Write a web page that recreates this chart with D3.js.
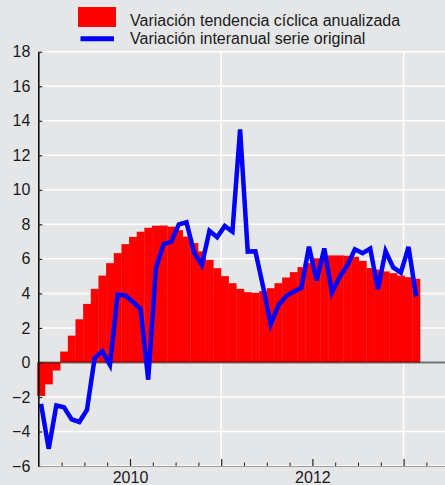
<!DOCTYPE html>
<html>
<head>
<meta charset="utf-8">
<script src="https://cdn.jsdelivr.net/npm/d3@7"></script>
<style>
  html, body { margin: 0; padding: 0; background: #e5e6e8; }
  svg { display: block; font-family: "Liberation Sans", Arial, sans-serif; }
</style>
</head>
<body>
<svg id="chart" width="445" height="485"></svg>
<script>
// ---- data (monthly, Jan 2009 – Feb 2013) ----
const startYear = 2009;
const seriesNames = ["Variación tendencia cíclica anualizada", "Variación interanual serie original"];
const trendValues = [
  -1.94, -1.27, -0.47, 0.63, 1.55, 2.50, 3.39, 4.26, 5.03, 5.75, 6.33, 6.85,
  7.27, 7.57, 7.80, 7.92, 7.93, 7.86, 7.66, 7.29, 6.91, 6.43, 5.94, 5.46,
  5.00, 4.59, 4.26, 4.07, 4.03, 4.13, 4.30, 4.59, 4.92, 5.23, 5.52, 5.75,
  6.03, 6.15, 6.20, 6.20, 6.18, 6.12, 5.88, 5.47, 5.37, 5.27, 5.17, 5.03,
  4.94, 4.84
];
const yoyValues = [
  -2.4, -5.0, -2.5, -2.6, -3.3, -3.45, -2.75, 0.25, 0.65, -0.15, 3.92, 3.88,
  3.5, 3.1, -1.0, 5.45, 6.85, 7.0, 8.0, 8.12, 6.35, 5.65, 7.62, 7.25,
  7.9, 7.58, 13.5, 6.42, 6.44, 4.4, 2.2, 3.3, 3.84, 4.1, 4.33, 6.7,
  4.75, 6.6, 4.05, 4.95, 5.62, 6.55, 6.33, 6.6, 4.25, 6.45, 5.5, 5.2,
  6.7, 3.83
];
const yTicks = [-6, -4, -2, 0, 2, 4, 6, 8, 10, 12, 14, 16, 18];
const xLabelYears = ["2010", "2012"];
const gridYears = ["2011", "2013"];

// ---- setup ----
const svg = d3.select("#chart");
const W = 445, H = 485;
const months = d3.range(trendValues.length);

svg.append("rect").attr("width", W).attr("height", H).attr("fill", "#e5e6e8");

const y = d3.scaleLinear().domain([-6, 18]).range([466, 51.7]);
const xb = d3.scaleBand().domain(months).range([37.2, 420]).padding(0);
const xa = d3.scaleLinear().domain([0, 54]).range([38.8, 38.8 + 54 * 7.6]);
const monthOfYear = yr => (+yr - startYear) * 12;

const plotLeft = xa(0), plotRight = W;

// grid
const grid = svg.append("g");
grid.selectAll("line.h").data(yTicks.filter(v => v !== 0)).join("line")
  .attr("x1", plotLeft).attr("x2", plotRight)
  .attr("y1", d => y(d)).attr("y2", d => y(d))
  .attr("stroke", "#ffffff").attr("stroke-width", 1.5);
grid.selectAll("line.v").data(gridYears).join("line")
  .attr("x1", d => xa(monthOfYear(d))).attr("x2", d => xa(monthOfYear(d)))
  .attr("y1", y(18)).attr("y2", y(-6))
  .attr("stroke", "#ffffff").attr("stroke-width", 1.5);

// bars
svg.append("g").selectAll("rect").data(trendValues).join("rect")
  .attr("x", (d, i) => xb(i))
  .attr("width", xb.bandwidth() + 0.3)
  .attr("y", d => y(Math.max(0, d)))
  .attr("height", d => Math.abs(y(d) - y(0)))
  .attr("fill", "#ff0000");

// zero line
svg.append("line")
  .attr("x1", plotLeft).attr("x2", plotRight)
  .attr("y1", y(0)).attr("y2", y(0))
  .attr("stroke", "#000").attr("stroke-opacity", 0.5).attr("stroke-width", 2);

// line
const line = d3.line()
  .x((d, i) => xb(i) + xb.bandwidth() / 2)
  .y(d => y(d));
svg.append("path").datum(yoyValues)
  .attr("d", line)
  .attr("fill", "none")
  .attr("stroke", "#0000ff")
  .attr("stroke-width", 4.5)
  .attr("stroke-linejoin", "miter");

// y axis
const yAxis = svg.append("g").attr("transform", `translate(${plotLeft - 0.5},0)`)
  .call(d3.axisLeft(y).tickValues(yTicks).tickSize(-4).tickSizeOuter(0).tickPadding(8));
yAxis.select(".domain").attr("stroke", "#000").attr("stroke-width", 1.5);
yAxis.selectAll(".tick line").attr("stroke", "#222").attr("stroke-width", 1.2);
yAxis.selectAll("text").attr("font-size", 16).attr("fill", "#1a1a1a")
  .attr("font-family", "Liberation Sans, Arial, sans-serif");

// x axis: minor quarter ticks
const quarterTicks = d3.range(0, 55, 3).filter(m => m % 12 !== 0);
const xMinor = svg.append("g").attr("transform", `translate(0,${y(-6)})`)
  .call(d3.axisBottom(xa).tickValues(quarterTicks).tickSize(-3.5).tickSizeOuter(0).tickFormat(""));
xMinor.select(".domain").attr("stroke", "#9a9a9a").attr("stroke-width", 1.2);
xMinor.selectAll(".tick line").attr("stroke", "#222");

// x axis: year ticks with labels
const yearTicks = [12, 24, 36, 48];
const xMajor = svg.append("g").attr("transform", `translate(0,${y(-6)})`)
  .call(d3.axisBottom(xa).tickValues(yearTicks).tickSize(-7).tickSizeOuter(0).tickPadding(5.5)
    .tickFormat(m => { const s = String(startYear + m / 12); return xLabelYears.includes(s) ? s : ""; }));
xMajor.select(".domain").remove();
xMajor.selectAll(".tick line").attr("stroke", "#222").attr("stroke-width", 1.2);
xMajor.selectAll("text").attr("font-size", 16).attr("fill", "#1a1a1a")
  .attr("font-family", "Liberation Sans, Arial, sans-serif");

// legend
const legend = svg.append("g");
legend.append("rect").attr("x", 78).attr("y", 7).attr("width", 38).attr("height", 20).attr("fill", "#ff0000");
legend.append("line").attr("x1", 80.5).attr("x2", 114).attr("y1", 38.7).attr("y2", 38.7)
  .attr("stroke", "#0000ff").attr("stroke-width", 5);
legend.selectAll("text").data(seriesNames).join("text")
  .attr("x", 130).attr("y", (d, i) => 26 + i * 18)
  .attr("font-size", 16).attr("fill", "#1a1a1a")
  .text(d => d);
</script>
</body>
</html>
